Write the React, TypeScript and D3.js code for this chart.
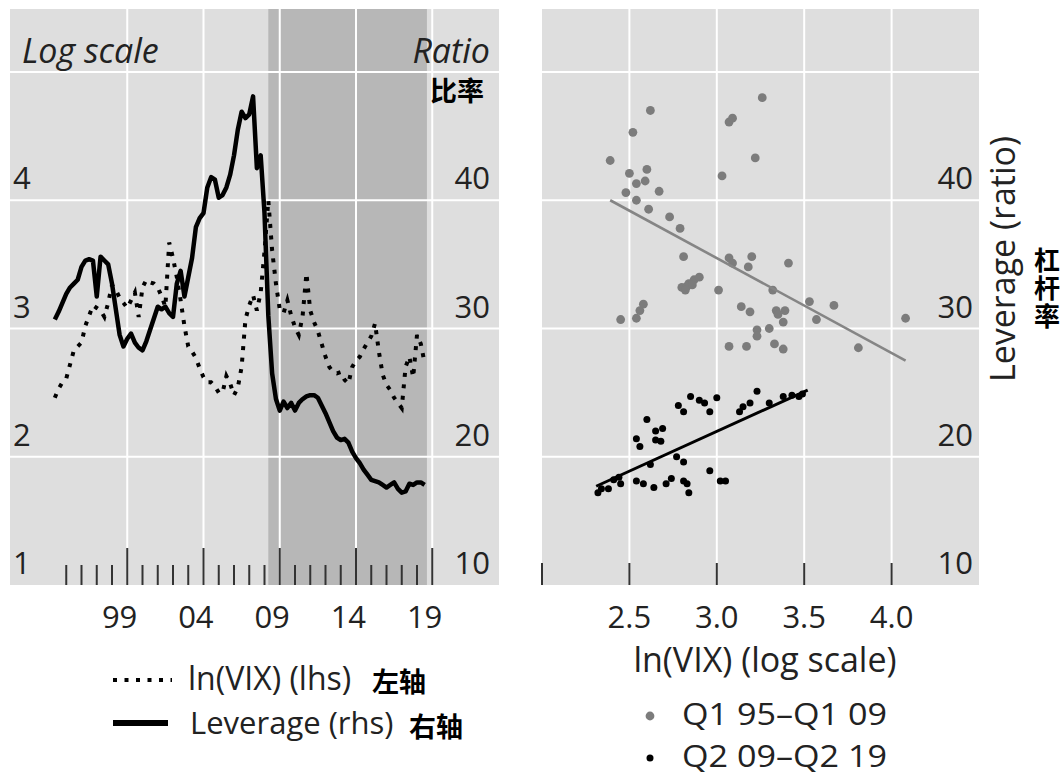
import React from "react";
import * as d3 from "d3";

// ---------- DATA ----------
const startYear = 1995; // first observation: Q1 1995, quarterly through Q2 2019
const lnVix: number[] = [
  2.46, 2.53, 2.58, 2.61, 2.72, 2.83, 2.86, 2.89, 3.02, 3.1,
  3.18, 3.16, 3.14, 3.09, 3.2, 3.34, 3.3, 3.24, 3.2, 3.16,
  3.22, 3.28, 3.09, 3.32, 3.38, 3.36, 3.35, 3.32, 3.25, 3.17,
  3.67, 3.55, 3.4, 3.22, 3.02, 2.86, 2.82, 2.77, 2.69, 2.62,
  2.58, 2.58, 2.55, 2.5, 2.5, 2.63, 2.57, 2.48, 2.54, 2.7,
  3.07, 3.18, 3.26, 3.14, 3.28, 3.6, 4.0, 3.61, 3.35, 3.15,
  3.12, 3.22, 3.1, 3.01, 2.95, 3.1, 3.43, 3.14, 3.05, 2.98,
  2.88, 2.78, 2.7, 2.66, 2.65, 2.66, 2.6, 2.57, 2.7, 2.75,
  2.78, 2.84, 2.89, 2.94, 3.04, 2.82, 2.64, 2.56, 2.52, 2.46,
  2.42, 2.38, 2.7, 2.78, 2.62, 2.95, 2.88, 2.73,
];
const leverage: number[] = [
  30.7, 31.3, 32.0, 32.7, 33.2, 33.5, 33.8, 34.8, 35.3, 35.4,
  35.3, 32.5, 35.6, 35.3, 35.0, 33.5, 31.5, 29.5, 28.6, 29.2,
  29.6, 28.9, 28.5, 28.3, 29.0, 29.9, 30.8, 31.7, 31.5, 31.7,
  31.2, 30.9, 33.5, 34.5, 32.5, 34.0, 35.5, 37.9, 38.6, 39.0,
  41.0, 41.8, 41.6, 40.2, 40.4, 41.0, 42.0, 43.5, 45.5, 46.9,
  46.4, 46.7, 48.1, 42.5, 43.5, 39.0, 31.0, 26.5, 24.5, 23.6,
  24.3, 23.8, 24.2, 23.6, 24.2, 24.5, 24.7, 24.8, 24.8, 24.6,
  24.0, 23.4, 22.7, 22.0, 21.5, 21.3, 21.4, 21.1, 20.4, 19.9,
  19.5, 19.0, 18.6, 18.2, 18.1, 18.0, 17.8, 17.6, 17.8, 18.0,
  17.5, 17.2, 17.3, 17.9, 17.8, 18.0, 18.0, 17.8,
];
const shadedPeriod: [number, number] = [2009.25, 2019.65];
const yearTickYears = d3.range(1996, 2021);
const labelYears = [1999, 2004, 2009, 2014, 2019];
const yearLabels = ["99", "04", "09", "14", "19"];
const lhsTicks = [1, 2, 3, 4];
const rhsTicks = [10, 20, 30, 40];
const gridRatio = [20, 30, 40, 50];
const vixTicks = [2.5, 3.0, 3.5, 4.0];
const vixTickLabels = ["2.5", "3.0", "3.5", "4.0"];

// scatter: [ln(VIX), leverage]
const scatterPre: [number, number][] = [
  [2.39, 43.1], [2.52, 45.3], [2.62, 47.0], [2.5, 42.1], [2.6, 42.4],
  [2.54, 41.3], [2.59, 41.5], [2.48, 40.6], [2.67, 40.7], [2.54, 40.0],
  [2.61, 39.3], [2.73, 38.7], [2.79, 37.8], [2.81, 35.6], [2.8, 33.2],
  [2.84, 33.5], [2.87, 33.8], [2.9, 34.0], [2.83, 33.3], [3.01, 33.0],
  [3.03, 41.9], [3.07, 46.1], [3.09, 46.4], [3.26, 48.0], [3.22, 43.3],
  [3.07, 35.5], [3.09, 35.1], [3.2, 35.6], [3.18, 34.8], [3.41, 35.1],
  [3.32, 33.0], [2.86, 33.4], [2.45, 30.7], [2.54, 30.8], [2.56, 31.4],
  [2.58, 31.9], [3.14, 31.7], [3.19, 31.3], [3.34, 31.4], [3.39, 31.4],
  [3.35, 31.1], [3.38, 30.5], [3.53, 32.1], [3.67, 31.8], [3.57, 30.7],
  [4.08, 30.8], [3.3, 30.0], [3.23, 29.9], [3.23, 29.4], [3.07, 28.6],
  [3.17, 28.6], [3.33, 28.8], [3.38, 28.4], [3.81, 28.5], [2.82, 33.0],
];
const scatterPost: [number, number][] = [
  [2.32, 17.2], [2.34, 17.5], [2.38, 17.5], [2.41, 18.2], [2.45, 17.9],
  [2.44, 18.4], [2.54, 18.1], [2.58, 17.9], [2.64, 17.6], [2.71, 17.9],
  [2.74, 18.3], [2.81, 18.1], [2.84, 17.2], [2.83, 17.9], [2.96, 18.9],
  [3.02, 18.1], [3.05, 18.1], [2.62, 19.4], [2.77, 20.0], [2.81, 19.6],
  [2.54, 21.4], [2.56, 20.8], [2.6, 22.9], [2.65, 22.0], [2.68, 21.2],
  [2.69, 22.2], [2.65, 21.3], [2.78, 24.0], [2.81, 23.5], [2.85, 24.7],
  [2.9, 24.4], [2.93, 24.2], [2.96, 23.5], [3.0, 24.6], [3.13, 23.5],
  [3.15, 23.9], [3.19, 24.2], [3.23, 25.1], [3.3, 24.2], [3.38, 24.7],
  [3.43, 24.8], [3.47, 24.7], [3.49, 24.9],
];
const fitPre: [number, number][] = [[2.39, 40.0], [4.08, 27.5]];
const fitPost: [number, number][] = [[2.31, 17.7], [3.52, 25.2]];

// ---------- STYLE ----------
const FONT = "'Open Sans', 'Noto Sans', sans-serif";
const CJK = "'Noto Sans CJK SC', sans-serif";
const BG = "#dedede";
const SHADE = "#b7b7b7";
const TXT = "#222";

const top = 9;
const bottom = 585;

export default function App() {
  // left panel
  const L = { x0: 10, x1: 499 };
  const xT = d3.scaleLinear().domain([1995, 2020]).range([51, 432.25]);
  const yL = d3.scaleLinear().domain([1, 5]).range([bottom, 72]);
  const yR = d3.scaleLinear().domain([10, 50]).range([bottom, 72]);
  const tOf = (i: number) => startYear + (i + 1) / 4;

  const levLine = d3
    .line<number>()
    .x((_, i) => xT(tOf(i)))
    .y((d) => yR(d));
  const vixLine = d3
    .line<number>()
    .x((_, i) => xT(tOf(i)))
    .y((d) => yL(d));

  // right panel
  const R = { x0: 542, x1: 979 };
  const xS = d3.scaleLinear().domain([2, 4.5]).range([R.x0, R.x1]);
  const fitGen = d3
    .line<[number, number]>()
    .x((d) => xS(d[0]))
    .y((d) => yR(d[1]));

  const dash = "4 7.5";

  return (
    <svg
      width={1064}
      height={776}
      style={{ position: "absolute", left: 0, top: 0, background: "#fff" }}
    >
      {/* ===== LEFT PANEL ===== */}
      <rect x={L.x0} y={top} width={L.x1 - L.x0} height={bottom - top} fill={BG} />
      <rect
        x={xT(shadedPeriod[0])}
        y={top}
        width={xT(shadedPeriod[1]) - xT(shadedPeriod[0])}
        height={bottom - top}
        fill={SHADE}
      />
      {gridRatio.map((v) => (
        <line key={"lg" + v} x1={L.x0} x2={L.x1} y1={yR(v)} y2={yR(v)} stroke="#fff" strokeWidth={2} />
      ))}
      {yearTickYears
        .filter((y) => (y - 2000) % 5 === 0)
        .map((y) => (
          <line key={"lv" + y} x1={xT(y)} x2={xT(y)} y1={top} y2={bottom} stroke="#fff" strokeWidth={2} />
        ))}
      {yearTickYears.map((y) => {
        const long = (y - 2000) % 5 === 0;
        return (
          <line
            key={"lt" + y}
            x1={xT(y)}
            x2={xT(y)}
            y1={bottom}
            y2={bottom - (long ? 37 : 20)}
            stroke="#333"
            strokeWidth={2}
          />
        );
      })}
      {lhsTicks.map((v) => (
        <text key={"lhs" + v} x={13} y={yL(v) - 11} fontFamily={FONT} fontSize={31} fill={TXT}>
          {v}
        </text>
      ))}
      {rhsTicks.map((v) => (
        <text
          key={"rhs" + v}
          x={490}
          y={yR(v) - 11}
          fontFamily={FONT}
          fontSize={31}
          fill={TXT}
          textAnchor="end"
        >
          {v}
        </text>
      ))}
      <text x={22} y={63} fontFamily={FONT} fontSize={34} fontStyle="italic" fill={TXT}>
        Log scale
      </text>
      <text x={490} y={63} fontFamily={FONT} fontSize={34} fontStyle="italic" fill={TXT} textAnchor="end">
        Ratio
      </text>
      <text x={484} y={101} fontFamily={CJK} fontSize={27} fontWeight="bold" fill="#000" textAnchor="end">
        比率
      </text>

      <path d={levLine(leverage) || ""} fill="none" stroke="#000" strokeWidth={4.5} strokeLinejoin="round" />
      <path d={vixLine(lnVix) || ""} fill="none" stroke="#000" strokeWidth={4} strokeDasharray={dash} />

      {labelYears.map((y, i) => (
        <text
          key={"yl" + y}
          x={xT(y + 0.5)}
          y={628}
          fontFamily={FONT}
          fontSize={31}
          fill={TXT}
          textAnchor="middle"
        >
          {yearLabels[i]}
        </text>
      ))}

      {/* left legend */}
      <line x1={113} x2={172} y1={680} y2={680} stroke="#000" strokeWidth={4} strokeDasharray={dash} />
      <text x={188} y={690} fontFamily={FONT} fontSize={32} fill={TXT}>
        ln(VIX) (lhs)
      </text>
      <text x={372} y={692} fontFamily={CJK} fontSize={27} fontWeight="bold" fill="#000">
        左轴
      </text>
      <line x1={113} x2={168} y1={723} y2={723} stroke="#000" strokeWidth={6} />
      <text x={190} y={734} fontFamily={FONT} fontSize={31} fill={TXT}>
        Leverage (rhs)
      </text>
      <text x={409} y={737} fontFamily={CJK} fontSize={27} fontWeight="bold" fill="#000">
        右轴
      </text>

      {/* ===== RIGHT PANEL ===== */}
      <rect x={R.x0} y={top} width={R.x1 - R.x0} height={bottom - top} fill={BG} />
      {gridRatio.map((v) => (
        <line key={"rg" + v} x1={R.x0} x2={R.x1} y1={yR(v)} y2={yR(v)} stroke="#fff" strokeWidth={2} />
      ))}
      {vixTicks.map((v) => (
        <line key={"rv" + v} x1={xS(v)} x2={xS(v)} y1={top} y2={bottom} stroke="#fff" strokeWidth={2} />
      ))}
      {[2.0, ...vixTicks].map((v) => (
        <line key={"rt" + v} x1={xS(v)} x2={xS(v)} y1={bottom} y2={bottom - 22} stroke="#333" strokeWidth={2} />
      ))}
      {rhsTicks.map((v) => (
        <text
          key={"rr" + v}
          x={973}
          y={yR(v) - 11}
          fontFamily={FONT}
          fontSize={31}
          fill={TXT}
          textAnchor="end"
        >
          {v}
        </text>
      ))}

      {scatterPre.map((d, i) => (
        <circle key={"sp" + i} cx={xS(d[0])} cy={yR(d[1])} r={4.4} fill="#7c7c7c" />
      ))}
      <path d={fitGen(fitPre) || ""} stroke="#858585" strokeWidth={2.6} fill="none" />
      {scatterPost.map((d, i) => (
        <circle key={"sq" + i} cx={xS(d[0])} cy={yR(d[1])} r={3.5} fill="#000" />
      ))}
      <path d={fitGen(fitPost) || ""} stroke="#000" strokeWidth={3} fill="none" />

      {vixTicks.map((v, i) => (
        <text
          key={"vl" + v}
          x={xS(v)}
          y={628}
          fontFamily={FONT}
          fontSize={31}
          fill={TXT}
          textAnchor="middle"
        >
          {vixTickLabels[i]}
        </text>
      ))}
      <text x={765} y={672} fontFamily={FONT} fontSize={34} fill={TXT} textAnchor="middle">
        ln(VIX) (log scale)
      </text>

      {/* axis title */}
      <text
        transform="translate(1015,259) rotate(-90)"
        fontFamily={FONT}
        fontSize={34}
        fill={TXT}
        textAnchor="middle"
      >
        Leverage (ratio)
      </text>
      <text
        x={1047}
        y={247}
        fontFamily={CJK}
        fontSize={26}
        fontWeight="bold"
        fill="#000"
        letterSpacing={2}
        style={{ writingMode: "vertical-rl" }}
      >
        杠杆率
      </text>

      {/* right legend */}
      <circle cx={650} cy={716} r={4.4} fill="#7c7c7c" />
      <text x={682} y={725} fontFamily={FONT} fontSize={31} fill={TXT} textLength={205} lengthAdjust="spacingAndGlyphs">
        Q1 95–Q1 09
      </text>
      <circle cx={650} cy={758} r={3.5} fill="#000" />
      <text x={682} y={767} fontFamily={FONT} fontSize={31} fill={TXT} textLength={205} lengthAdjust="spacingAndGlyphs">
        Q2 09–Q2 19
      </text>
    </svg>
  );
}
